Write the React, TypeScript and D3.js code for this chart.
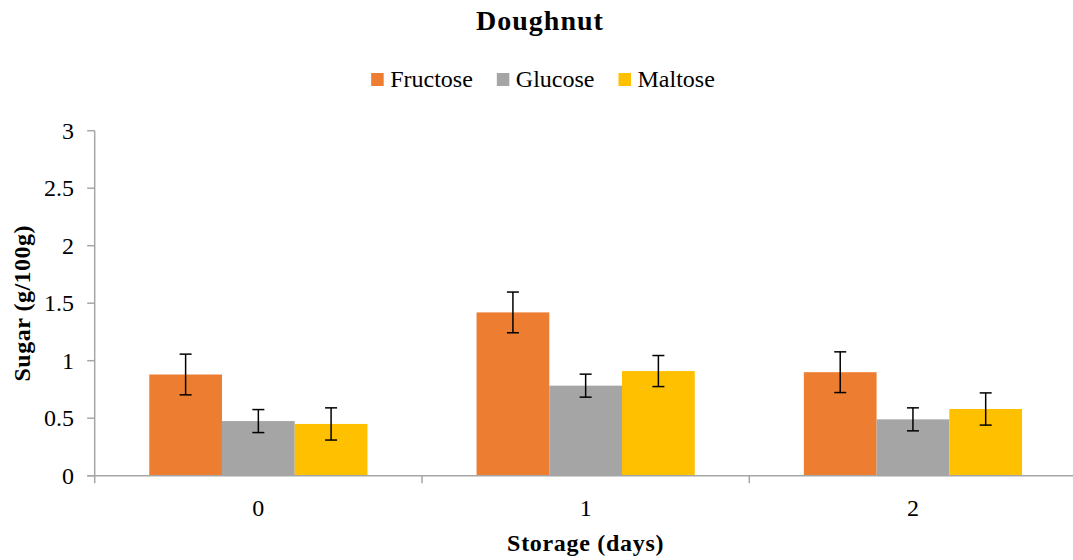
import React, { useEffect, useRef } from "react";
import * as d3 from "d3";

const categories = ["0", "1", "2"];
const seriesNames = ["Fructose", "Glucose", "Maltose"];
const fructose = [0.88, 1.42, 0.9];
const glucose = [0.475, 0.783, 0.49];
const maltose = [0.45, 0.91, 0.58];
const fructoseErr = [0.177, 0.177, 0.177];
const glucoseErr = [0.1, 0.1, 0.1];
const maltoseErr = [0.14, 0.135, 0.14];
const yTicks = [0, 0.5, 1, 1.5, 2, 2.5, 3];
const colors = ["#ED7D31", "#A5A5A5", "#FFC000"];

const W = 1073;
const H = 560;
const FONT = "'Liberation Serif', 'Times New Roman', serif";

export default function App() {
  const ref = useRef<SVGSVGElement | null>(null);

  useEffect(() => {
    const svg = d3.select(ref.current);
    svg.selectAll("*").remove();

    const left = 94.7;
    const right = 1076.6;
    const top = 130.7;
    const bottom = 475.7;

    const x0 = d3.scaleBand<string>().domain(categories).range([left, right]).paddingInner(0).paddingOuter(0);
    const x1 = d3
      .scaleBand<string>()
      .domain(seriesNames)
      .range([0, x0.bandwidth()])
      .paddingInner(0)
      .paddingOuter(0.75);
    const y = d3.scaleLinear().domain([0, 3]).range([bottom, top]);

    const values = [fructose, glucose, maltose];
    const errs = [fructoseErr, glucoseErr, maltoseErr];
    const axisColor = "#A6A6A6";

    // Title
    svg
      .append("text")
      .attr("x", 540)
      .attr("y", 30)
      .attr("text-anchor", "middle")
      .attr("font-family", FONT)
      .attr("font-weight", "bold")
      .attr("font-size", 28)
      .attr("letter-spacing", 1)
      .text("Doughnut");

    // Legend
    const legend = svg.append("g");
    let cx = 0;
    const items: { g: any; w: number }[] = [];
    seriesNames.forEach((name, i) => {
      const g = legend.append("g");
      g.append("rect").attr("x", 0).attr("y", 73).attr("width", 12.5).attr("height", 13).attr("fill", colors[i]);
      const t = g
        .append("text")
        .attr("x", 19)
        .attr("y", 87)
        .attr("font-family", FONT)
        .attr("font-size", 24)
        .text(name);
      const tw = (t.node() as SVGTextElement).getComputedTextLength();
      items.push({ g, w: 19 + tw });
    });
    const gap = 24;
    const total = items.reduce((s, it) => s + it.w, 0) + gap * (items.length - 1);
    cx = 543 - total / 2;
    items.forEach((it) => {
      it.g.attr("transform", `translate(${cx},0)`);
      cx += it.w + gap;
    });

    // Y axis
    svg
      .append("line")
      .attr("x1", left)
      .attr("x2", left)
      .attr("y1", top)
      .attr("y2", bottom)
      .attr("stroke", axisColor)
      .attr("stroke-width", 1.5);
    yTicks.forEach((t) => {
      svg
        .append("line")
        .attr("x1", left - 7.5)
        .attr("x2", left)
        .attr("y1", y(t))
        .attr("y2", y(t))
        .attr("stroke", axisColor)
        .attr("stroke-width", 1.5);
      svg
        .append("text")
        .attr("x", 74)
        .attr("y", y(t) + 8)
        .attr("text-anchor", "end")
        .attr("font-family", FONT)
        .attr("font-size", 24)
        .text(String(t));
    });

    // Bars
    categories.forEach((c, ci) => {
      seriesNames.forEach((s, si) => {
        const v = values[si][ci];
        const bx = (x0(c) as number) + (x1(s) as number);
        const bw = x1.bandwidth();
        svg
          .append("rect")
          .attr("x", bx)
          .attr("y", y(v))
          .attr("width", bw)
          .attr("height", y(0) - y(v))
          .attr("fill", colors[si]);
      });
    });

    // Error bars
    categories.forEach((c, ci) => {
      seriesNames.forEach((s, si) => {
        const v = values[si][ci];
        const e = errs[si][ci];
        const mx = (x0(c) as number) + (x1(s) as number) + x1.bandwidth() / 2;
        const g = svg.append("g").attr("stroke", "#000").attr("stroke-width", 1.5);
        g.append("line").attr("x1", mx).attr("x2", mx).attr("y1", y(v + e)).attr("y2", y(v - e));
        g.append("line").attr("x1", mx - 6).attr("x2", mx + 6).attr("y1", y(v + e)).attr("y2", y(v + e));
        g.append("line").attr("x1", mx - 6).attr("x2", mx + 6).attr("y1", y(v - e)).attr("y2", y(v - e));
      });
    });

    // X axis
    svg
      .append("line")
      .attr("x1", left - 7.5)
      .attr("x2", right)
      .attr("y1", bottom)
      .attr("y2", bottom)
      .attr("stroke", axisColor)
      .attr("stroke-width", 1.5);
    const bounds = [...categories.map((c) => x0(c) as number), right];
    bounds.forEach((bx) => {
      svg
        .append("line")
        .attr("x1", bx)
        .attr("x2", bx)
        .attr("y1", bottom)
        .attr("y2", bottom + 7.5)
        .attr("stroke", axisColor)
        .attr("stroke-width", 1.5);
    });
    categories.forEach((c) => {
      svg
        .append("text")
        .attr("x", (x0(c) as number) + x0.bandwidth() / 2)
        .attr("y", 516)
        .attr("text-anchor", "middle")
        .attr("font-family", FONT)
        .attr("font-size", 24)
        .text(c);
    });

    // Axis titles
    svg
      .append("text")
      .attr("x", (left + right) / 2)
      .attr("y", 551)
      .attr("text-anchor", "middle")
      .attr("font-family", FONT)
      .attr("font-weight", "bold")
      .attr("font-size", 24)
      .attr("letter-spacing", 0.7)
      .text("Storage (days)");
    svg
      .append("text")
      .attr("transform", `translate(30,${(top + bottom) / 2}) rotate(-90)`)
      .attr("text-anchor", "middle")
      .attr("font-family", FONT)
      .attr("font-weight", "bold")
      .attr("font-size", 24)
      .attr("letter-spacing", 0.5)
      .text("Sugar (g/100g)");
  }, []);

  return (
    <svg
      ref={ref}
      width={W}
      height={H}
      style={{ position: "absolute", left: 0, top: 0, background: "#fff" }}
    />
  );
}
